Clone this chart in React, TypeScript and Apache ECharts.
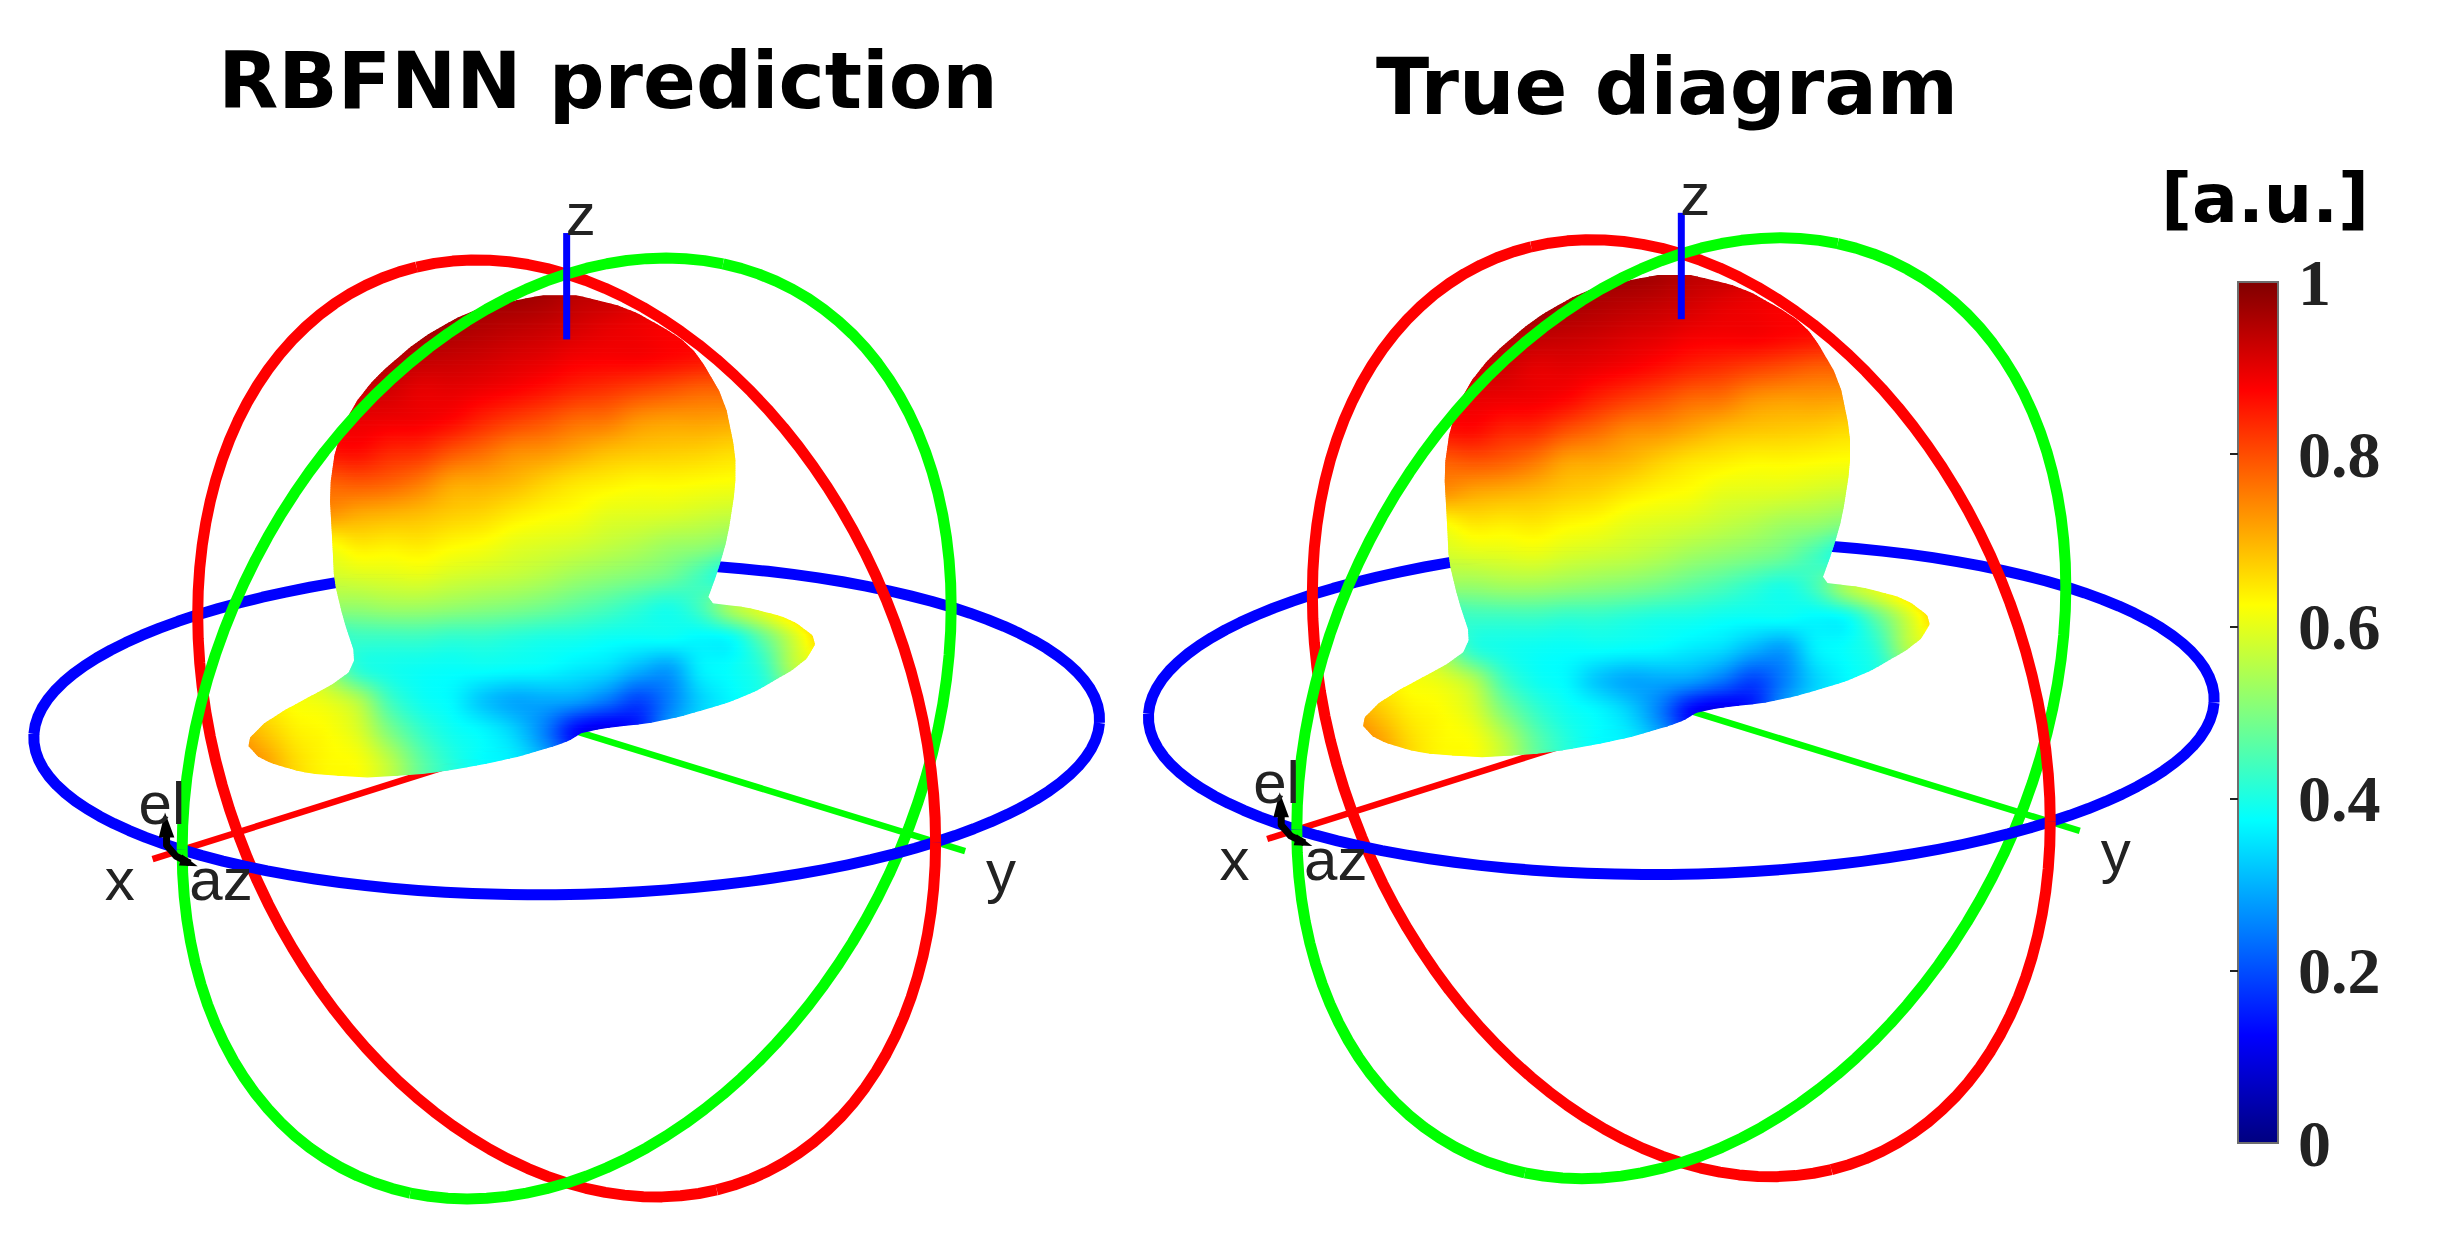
import React, { useEffect, useRef } from "react";
import * as echarts from "echarts";

const WIDTH = 2441;
const HEIGHT = 1253;
// Plot units of the two panels (the hidden axes map them onto the page).
const UNIT_W = 1568;
const UNIT_H = 805;

const TITLES = ["RBFNN prediction", "True diagram"];
const UNIT_LABEL = "[a.u.]";
const PANEL_DX = [0, 716];
const PANEL_DY = [0, -13];
const COLORBAR_TICKS = [0.2, 0.4, 0.6, 0.8];

// Silhouette of the pattern: [screen y, screen x]
const LOBE_LEFT = [[190, 349], [194, 328], [201, 300], [218, 270], [242, 242], [261, 227], [287, 216], [315, 212], [351, 214], [373, 215], [398, 221], [422, 229], [435, 223], [462, 173], [477, 158], [488, 168], [497, 198], [499, 236]];
const LOBE_RIGHT = [[190, 370], [198, 403], [216, 435], [228, 448], [257, 465], [291, 472], [313, 472], [345, 467], [366, 461], [388, 453], [390, 478], [398, 508], [411, 525], [426, 516], [448, 478], [463, 427], [469, 376], [477, 363], [488, 325], [497, 275], [499, 236]];

// Field strength on the visible surface.
const VALUE_XS = [150, 170, 190, 210, 230, 250, 270, 290, 310, 330, 350, 370, 390, 410, 430, 450, 470, 490, 510, 530];
const VALUE_YS = [190, 210, 230, 250, 270, 290, 310, 330, 350, 370, 390, 410, 430, 450, 470, 490, 510];
const VALUE_ROWS = [
  [.97, .97, .97, .97, .97, .97, .97, .97, .97, .97, .96, .94, .93, .91, .90, .90, .90, .90, .90, .90],
  [.97, .97, .97, .97, .97, .97, .97, .96, .95, .94, .93, .915, .90, .89, .88, .88, .87, .87, .87, .87],
  [.97, .97, .97, .97, .97, .95, .937, .93, .922, .91, .90, .885, .88, .88, .87, .86, .85, .85, .85, .85],
  [.94, .94, .94, .94, .93, .92, .90, .90, .89, .877, .86, .84, .827, .81, .795, .78, .78, .78, .78, .78],
  [.89, .89, .89, .89, .895, .89, .885, .87, .84, .815, .795, .77, .76, .73, .72, .72, .715, .715, .715, .715],
  [.86, .86, .86, .86, .865, .84, .83, .795, .77, .74, .73, .71, .69, .68, .675, .67, .66, .66, .66, .66],
  [.78, .78, .78, .78, .79, .78, .755, .715, .708, .694, .67, .65, .64, .63, .63, .625, .62, .62, .62, .62],
  [.73, .73, .73, .73, .71, .70, .69, .675, .665, .645, .63, .62, .60, .595, .59, .58, .57, .57, .57, .57],
  [.62, .62, .62, .62, .645, .64, .645, .63, .62, .60, .59, .58, .565, .55, .53, .52, .50, .50, .50, .50],
  [.58, .58, .58, .58, .59, .595, .60, .585, .575, .565, .55, .53, .515, .50, .48, .44, .40, .45, .55, .6],
  [.52, .52, .52, .52, .52, .53, .53, .52, .51, .50, .485, .465, .445, .42, .40, .44, .54, .60, .66, .68],
  [.55, .55, .52, .43, .43, .43, .43, .42, .42, .41, .40, .395, .385, .38, .38, .37, .38, .47, .58, .68],
  [.62, .62, .62, .52, .42, .395, .385, .38, .38, .375, .37, .355, .34, .30, .28, .36, .38, .42, .55, .60],
  [.64, .64, .62, .60, .55, .44, .39, .37, .32, .29, .29, .28, .24, .19, .25, .33, .37, .40, .45, .50],
  [.72, .68, .64, .625, .59, .50, .43, .39, .37, .33, .25, .13, .10, .15, .28, .35, .37, .40, .45, .50],
  [.76, .72, .66, .63, .62, .56, .47, .41, .375, .36, .30, .20, .15, .20, .28, .35, .37, .40, .45, .50],
  [.76, .72, .66, .63, .62, .56, .47, .41, .375, .36, .30, .20, .15, .20, .28, .35, .37, .40, .45, .50],
];

// Axis geometry of the projected unit sphere
const CENTER = [364, 468];
const X_VEC = [-247, 78];
const Y_VEC = [237, 73];
const Z_VEC = [0, -292];
const VIEW = [0.66, 0.69, 0.31];
const RING_COLORS = ["#0000ff", "#ff0000", "#00ff00"];
// ring axes: xy, yz, xz
const RING_AXES = [[0, 1], [1, 2], [0, 2]];
const RING_ANGLES = Array.from({ length: 121 }, (_, i) => i * 3);
// [axis, start, end, colour]
const AXIS_SEGMENTS_BACK: [number, number, number, string][] = [[0, 0, 1.077, "#ff0000"], [1, 0, 1.08, "#00ff00"]];
const AXIS_SEGMENT_Z: [number, number, number, string] = [2, 0.856, 1.09, "#0000ff"];

const ARROW_CURVE = [[107, 532], [107, 543], [113, 550], [122, 554.5]];
const ARROW_HEAD = [[106, 522], [102, 538], [112, 538]];
const ARROW_HEAD_2 = [[127, 556.5], [117, 549], [115, 556]];

const SMALL_LABELS: [string, number, number][] = [["z", 373, 138], ["x", 77, 565], ["y", 643, 560], ["el", 104, 516], ["az", 142, 565]];

const JET = (v: number) => {
  const ch = (d: number) => Math.round(255 * Math.max(0, Math.min(1, 1.5 - Math.abs(4 * v - d))));
  return `rgb(${ch(3)},${ch(2)},${ch(1)})`;
};
const JET_STOPS = Array.from({ length: 33 }, (_, i) => ({ offset: i / 32, color: JET(1 - i / 32) }));

// corner-cutting so that the drawn silhouette is a smooth outline
function soften(edge: number[][]) {
  const out = [edge[0]];
  for (let i = 0; i < edge.length - 1; i++) {
    const a = edge[i], b = edge[i + 1];
    out.push([a[0] * 0.8 + b[0] * 0.2, a[1] * 0.8 + b[1] * 0.2]);
    out.push([a[0] * 0.2 + b[0] * 0.8, a[1] * 0.2 + b[1] * 0.8]);
  }
  out.push(edge[edge.length - 1]);
  return out;
}
const EDGE_L = soften(LOBE_LEFT);
const EDGE_R = soften(LOBE_RIGHT);

function onEdge(edge: number[][], y: number) {
  if (y <= edge[0][0]) return edge[0][1];
  for (let i = 1; i < edge.length; i++) {
    if (y <= edge[i][0]) {
      const t = (y - edge[i - 1][0]) / Math.max(1e-6, edge[i][0] - edge[i - 1][0]);
      return edge[i - 1][1] + t * (edge[i][1] - edge[i - 1][1]);
    }
  }
  return edge[edge.length - 1][1];
}
const catmull = (a: number, b: number, c: number, d: number, t: number) =>
  b + 0.5 * t * (c - a + t * (2 * a - 5 * b + 4 * c - d + t * (3 * (b - c) + d - a)));
function sampleValue(x: number, y: number) {
  const fx = Math.max(0, Math.min(VALUE_XS.length - 1.001, (x - VALUE_XS[0]) / 20));
  const fy = Math.max(0, Math.min(VALUE_YS.length - 1.001, (y - VALUE_YS[0]) / 20));
  const ix = Math.floor(fx), iy = Math.floor(fy);
  const tx = fx - ix, ty = fy - iy;
  const col = (j: number) => {
    const r = VALUE_ROWS[Math.max(0, Math.min(VALUE_ROWS.length - 1, j))];
    const g = (k: number) => r[Math.max(0, Math.min(r.length - 1, k))];
    return catmull(g(ix - 1), g(ix), g(ix + 1), g(ix + 2), tx);
  };
  return Math.max(0, Math.min(1, catmull(col(iy - 1), col(iy), col(iy + 1), col(iy + 2), ty)));
}

const STRIP_STEP = 1.1;
const STRIPS = (() => {
  const out: { y: number; pts: number[][]; fill: any }[] = [];
  for (let y = 190; y < 499; y += STRIP_STEP) {
    const y2 = y + STRIP_STEP;
    const pts = [[onEdge(EDGE_L, y), y], [onEdge(EDGE_R, y), y], [onEdge(EDGE_R, y2), y2], [onEdge(EDGE_L, y2), y2]];
    const x0 = Math.min(pts[0][0], pts[3][0]);
    const x1 = Math.max(pts[1][0], pts[2][0]);
    const n = Math.max(2, Math.ceil((x1 - x0) / 5));
    const colorStops = [];
    for (let i = 0; i <= n; i++) colorStops.push({ offset: i / n, color: JET(sampleValue(x0 + ((x1 - x0) * i) / n, y)) });
    out.push({ y, pts, fill: { type: "linear", x: 0, y: 0, x2: 1, y2: 0, colorStops } });
  }
  return out;
})();

const project = (p: number[]) => [
  CENTER[0] + p[0] * X_VEC[0] + p[1] * Y_VEC[0] + p[2] * Z_VEC[0],
  CENTER[1] + p[0] * X_VEC[1] + p[1] * Y_VEC[1] + p[2] * Z_VEC[1],
];
function ringArcs(r: number, front: boolean) {
  const [a, b] = RING_AXES[r];
  const arcs: number[][][] = [];
  let cur: number[][] | null = null;
  const phase = RING_ANGLES.map((d) => {
    const c = Math.cos((d * Math.PI) / 180), s = Math.sin((d * Math.PI) / 180);
    const p = [0, 0, 0];
    p[a] = c;
    p[b] = s;
    return { p, depth: p[0] * VIEW[0] + p[1] * VIEW[1] + p[2] * VIEW[2] };
  });
  phase.forEach((q, i) => {
    const on = q.depth >= 0 === front;
    const nextOn = i < phase.length - 1 && phase[i + 1].depth >= 0 === front;
    if (on || nextOn) {
      if (!cur) { cur = []; arcs.push(cur); }
      cur.push(project(q.p));
    } else cur = null;
  });
  return arcs;
}

const segPoint = (axis: number, t: number) => {
  const p = [0, 0, 0];
  p[axis] = t;
  return project(p);
};
const Lines = (api: any, pts: number[][], p: number, color: string, width: number, cap = "butt") => ({
  type: "polyline",
  shape: { points: pts.map((q) => api.coord([q[0] + PANEL_DX[p], q[1] + PANEL_DY[p]])) },
  style: { stroke: color, lineWidth: width, fill: "none", lineCap: cap, lineJoin: "round" },
});

const panelItems = PANEL_DX.map((_, i) => [i]);
const xy = { xAxisIndex: 0, yAxisIndex: 0, coordinateSystem: "cartesian2d" };

export default function App() {
  const ref = useRef<HTMLDivElement>(null);
  useEffect(() => {
    document.body.style.margin = "0";
    document.body.style.background = "#fff";
    const chart = echarts.init(ref.current!, undefined, { renderer: "svg" });
    const backRender = (_: any, api: any) => {
      const p = api.value(0);
      const children: any[] = [];
      [0, 1, 2].forEach((r) => ringArcs(r, false).forEach((arc) => children.push(Lines(api, arc, p, RING_COLORS[r], 11))));
      AXIS_SEGMENTS_BACK.forEach(([axis, a, b, c]) => children.push(Lines(api, [segPoint(axis, a), segPoint(axis, b)], p, c, 6.5)));
      return { type: "group", children };
    };
    const stripRender = (_: any, api: any) => {
      const p = api.value(0);
      const s = STRIPS[api.value(1)];
      return {
        type: "polygon",
        shape: { points: s.pts.map((q) => api.coord([q[0] + PANEL_DX[p], q[1] + PANEL_DY[p]])) },
        style: { fill: s.fill, stroke: s.fill, lineWidth: 1.2, lineJoin: "round" },
      };
    };
    const frontRender = (_: any, api: any) => {
      const p = api.value(0);
      const children: any[] = [];
      [0, 1, 2].forEach((r) => ringArcs(r, true).forEach((arc) => children.push(Lines(api, arc, p, RING_COLORS[r], 11))));
      const [axis, a, b, c] = AXIS_SEGMENT_Z;
      children.push(Lines(api, [segPoint(axis, a), segPoint(axis, b)], p, c, 7));
      children.push(Lines(api, ARROW_CURVE, p, "#000", 7));
      [ARROW_HEAD, ARROW_HEAD_2].forEach((h) =>
        children.push({
          type: "polygon",
          shape: { points: h.map((q) => api.coord([q[0] + PANEL_DX[p], q[1] + PANEL_DY[p]])) },
          style: { fill: "#000" },
        }),
      );
      return { type: "group", children };
    };
    const barRender = (_: any, api: any) => {
      const a = api.coord([0, 1]);
      const b = api.coord([1, 0]);
      return {
        type: "rect",
        shape: { x: a[0], y: a[1], width: b[0] - a[0], height: b[1] - a[1] },
        style: { fill: { type: "linear", x: 0, y: 0, x2: 0, y2: 1, colorStops: JET_STOPS }, stroke: "#6e6e6e", lineWidth: 2 },
      };
    };
    const labelGraphics: any[] = [];
    PANEL_DX.forEach((dx, p) =>
      SMALL_LABELS.forEach(([t, x, y]) =>
        labelGraphics.push({
          type: "text",
          x: ((x + dx) * WIDTH) / UNIT_W,
          y: ((y + PANEL_DY[p]) * HEIGHT) / UNIT_H,
          z: 20,
          style: { text: t, fill: "#222", font: '60px "Liberation Sans"', textAlign: "center", textVerticalAlign: "middle" },
        }),
      ),
    );
    chart.setOption({
      animation: false,
      backgroundColor: "#fff",
      grid: [
        { left: 0, top: 0, width: WIDTH, height: HEIGHT, containLabel: false },
        { left: 2238, top: 282, width: 40, height: 861, containLabel: false },
      ],
      xAxis: [
        { type: "value", gridIndex: 0, min: 0, max: UNIT_W, show: false },
        { type: "value", gridIndex: 1, min: 0, max: 1, show: false },
      ],
      yAxis: [
        { type: "value", gridIndex: 0, min: 0, max: UNIT_H, inverse: true, show: false },
        {
          type: "value", gridIndex: 1, min: 0, max: 1, interval: 0.2, position: "right",
          splitLine: { show: false },
          axisLine: { show: false },
          axisTick: { show: true, inside: true, length: 8, customValues: COLORBAR_TICKS, lineStyle: { color: "#222", width: 2 } },
          axisLabel: { margin: 20, color: "#222", fontFamily: '"Liberation Serif"', fontWeight: "bold", fontSize: 66 },
          z: 5,
        },
      ],
      series: [
        { type: "custom", ...xy, silent: true, clip: false, z: 1, data: panelItems, renderItem: backRender },
        {
          type: "custom", ...xy, silent: true, clip: false, z: 2, progressive: 0,
          data: PANEL_DX.flatMap((_, p) => STRIPS.map((_, s) => [p, s])),
          encode: { x: 0, y: 1 },
          renderItem: stripRender,
        },
        { type: "custom", ...xy, silent: true, clip: false, z: 3, data: panelItems, renderItem: frontRender },
        { type: "custom", xAxisIndex: 1, yAxisIndex: 1, coordinateSystem: "cartesian2d", silent: true, clip: false, z: 4, data: [[0, 0]], renderItem: barRender },
      ],
      graphic: [
        ...labelGraphics,
        { type: "text", x: 608, y: 81, z: 20, style: { text: TITLES[0], fill: "#000", font: 'bold 78px "DejaVu Sans"', textAlign: "center", textVerticalAlign: "middle" } },
        { type: "text", x: 1667, y: 87, z: 20, style: { text: TITLES[1], fill: "#000", font: 'bold 78px "DejaVu Sans"', textAlign: "center", textVerticalAlign: "middle" } },
        { type: "text", x: 2265, y: 198, z: 20, style: { text: UNIT_LABEL, fill: "#000", font: 'bold 68px "DejaVu Sans"', textAlign: "center", textVerticalAlign: "middle" } },
      ],
    });
    return () => chart.dispose();
  }, []);
  return <div ref={ref} style={{ position: "absolute", left: 0, top: 0, width: WIDTH, height: HEIGHT }} />;
}
